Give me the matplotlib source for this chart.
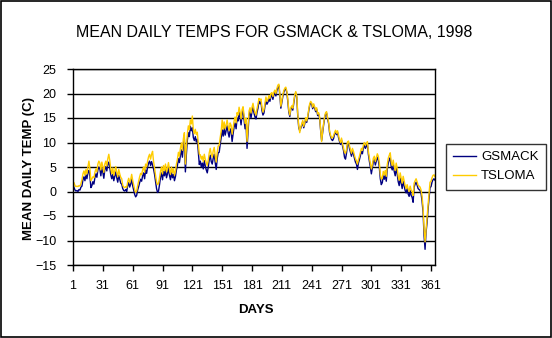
import matplotlib
matplotlib.use("Agg")
import matplotlib.pyplot as plt
import numpy as np

# daily mean temps (C)
gsmack = [
    1.4, 0.8, 0.3, 0.1, 0.2, 0.0, 0.4, 0.3, 0.9, 1.1,
    2.4, 3.0, 2.2, 3.4, 2.6, 3.9, 4.3, 3.1, 0.8, 1.2,
    2.0, 1.5, 2.8, 3.6, 2.9, 4.4, 5.0, 4.6, 3.2, 4.8,
    3.9, 2.7, 4.5, 5.1, 4.2, 5.6, 6.0, 4.9, 3.4, 2.6,
    3.5, 2.2, 3.1, 4.0, 2.8, 1.9, 3.3, 2.5, 1.7, 1.5,
    0.6, 0.2, 0.1, 0.4, 0.0, 1.2, 1.8, 0.9, 1.5, 2.6,
    1.2, 0.3, -0.6, -1.1, -0.8, 0.3, 1.0, 1.8, 2.5, 2.1,
    3.2, 3.8, 2.6, 4.4, 3.7, 5.0, 5.8, 6.2, 5.3, 6.1,
    5.4, 4.6, 3.5, 2.0, 0.6, -0.2, 0.1, 1.4, 2.9, 3.8,
    2.4, 4.1, 3.2, 4.5, 2.8, 3.6, 4.8, 3.3, 2.4, 3.9,
    2.8, 3.5, 2.2, 3.0, 4.4, 5.3, 6.7, 5.9, 7.4, 8.5,
    7.0, 9.4, 10.6, 4.0, 7.6, 10.5, 12.0, 11.2, 13.3, 12.4,
    13.0, 11.0, 10.4, 11.2, 10.1, 10.7, 8.2, 5.5, 6.2, 5.0,
    5.8, 4.6, 6.3, 5.2, 4.4, 3.8, 5.0, 6.5, 7.4, 6.1,
    5.6, 6.8, 7.6, 5.9, 4.5, 6.7, 7.9, 8.0, 9.6, 11.0,
    12.6, 11.3, 13.0, 11.5, 12.4, 13.4, 12.0, 11.1, 12.8, 12.2,
    10.2, 11.8, 13.2, 14.0, 12.8, 15.0, 14.4, 16.2, 15.1, 13.6,
    15.8, 16.6, 14.6, 12.8, 13.9, 8.8, 12.2, 15.5, 16.3, 15.0,
    16.4, 17.2, 16.0, 15.2, 14.8, 16.1, 17.0, 18.6, 17.9, 18.3,
    16.5, 15.6, 16.0, 17.4, 18.6, 17.8, 18.2, 19.0, 18.4, 19.4,
    19.6, 18.8, 19.8, 20.2, 19.5, 20.6, 21.2, 21.6, 19.6, 17.0,
    18.2, 19.4, 20.3, 20.8, 21.0, 20.2, 18.4, 16.2, 15.3, 16.8,
    17.2, 16.6, 18.0, 19.5, 20.1, 19.2, 15.4, 13.0, 12.4, 12.9,
    13.5, 14.2, 13.0, 13.8, 14.8, 14.1, 15.0, 16.4, 17.6, 18.1,
    17.8, 16.9, 17.6, 17.0, 16.3, 16.8, 15.5, 15.8, 14.9, 12.5,
    10.4, 12.0, 13.6, 15.0, 15.8, 16.0, 14.8, 13.9, 12.0, 11.2,
    10.6, 10.4, 10.8, 11.7, 12.2, 11.6, 12.1, 11.0, 10.2, 9.6,
    10.5, 9.3, 8.4, 7.0, 6.6, 7.8, 9.5, 9.9, 8.8, 8.0,
    7.2, 8.3, 7.6, 6.8, 6.0, 5.6, 4.5, 5.8, 6.5, 7.4,
    8.2, 7.7, 8.9, 9.4, 8.8, 9.2, 9.8, 7.6, 6.2, 5.0,
    3.6, 4.8, 6.1, 6.5, 5.4, 6.2, 7.0, 6.4, 5.0, 2.6,
    1.4, 1.8, 3.2, 2.5, 3.4, 2.1, 4.6, 5.8, 6.4, 6.9,
    5.0, 4.4, 5.5, 4.1, 3.2, 4.8, 3.6, 2.0, 1.2, 2.8,
    1.7, 0.6, 2.1, 1.1, 0.2, -0.3, 0.6, -0.5, -1.0, 0.2,
    -0.8, -1.2, -2.2, 0.9, 1.5, 1.9, 1.3, 0.6, 0.4, 0.2,
    -0.4, -2.0, -4.2, -9.0, -11.8, -8.3, -6.4, -3.7, -1.4, 0.8,
    1.0, 1.9, 2.4, 2.6, 2.3,
]

tsloma = [
    2.0, 1.8, 1.2, 1.0, 1.1, 1.0, 1.2, 1.1, 1.6, 2.4,
    3.6, 4.2, 3.3, 4.5, 3.6, 5.0, 6.2, 4.6, 2.2, 2.6,
    3.0, 2.8, 3.9, 4.6, 4.0, 5.6, 6.2, 5.8, 4.4, 6.0,
    5.1, 3.9, 5.6, 6.2, 5.2, 6.7, 7.6, 6.3, 4.6, 3.6,
    4.8, 3.3, 4.2, 5.1, 3.9, 3.0, 4.5, 3.6, 2.9, 2.6,
    1.3, 0.9, 0.8, 1.0, 0.8, 2.0, 2.7, 1.8, 2.4, 3.5,
    2.3, 1.4, 0.4, -0.2, 0.1, 1.2, 2.1, 3.0, 3.7, 3.4,
    4.4, 5.0, 3.9, 5.6, 5.0, 6.2, 7.1, 7.6, 6.6, 7.6,
    8.2, 6.1, 4.8, 3.3, 2.0, 1.4, 1.6, 2.8, 4.1, 5.0,
    3.6, 5.3, 4.3, 5.6, 4.0, 4.8, 5.9, 4.5, 3.5, 5.0,
    3.8, 4.7, 3.3, 4.1, 5.6, 6.6, 8.0, 7.2, 8.8, 9.9,
    8.4, 10.8, 12.0, 5.6, 9.2, 11.8, 13.4, 12.6, 14.6, 13.8,
    15.4, 12.6, 11.8, 12.7, 11.6, 12.1, 9.7, 7.6, 7.5, 6.6,
    7.2, 6.1, 7.6, 6.6, 5.9, 5.3, 6.4, 7.9, 8.8, 7.6,
    7.0, 8.3, 9.0, 7.3, 6.0, 8.0, 9.3, 9.4, 11.0, 12.3,
    14.6, 12.7, 14.2, 12.8, 13.6, 14.6, 13.3, 12.4, 14.0, 13.5,
    11.7, 13.0, 14.4, 15.2, 14.0, 16.1, 15.6, 17.2, 16.2, 14.8,
    16.7, 17.3, 15.6, 13.9, 14.9, 10.2, 13.4, 16.4, 17.1, 16.0,
    17.2, 18.0, 16.8, 16.1, 15.6, 16.9, 17.8, 19.0, 18.6, 18.9,
    17.2, 16.2, 16.7, 18.0, 19.3, 18.4, 18.8, 19.6, 19.0, 20.0,
    20.2, 19.4, 20.3, 20.7, 20.0, 21.0, 21.7, 21.9, 20.0, 17.4,
    18.6, 19.8, 20.6, 21.1, 21.3, 20.5, 18.8, 16.6, 15.6, 17.1,
    17.5, 17.0, 18.4, 19.8, 20.4, 19.5, 15.8, 13.4, 12.0, 13.1,
    13.8, 14.5, 13.3, 14.1, 15.1, 14.4, 15.3, 16.7, 17.9, 18.4,
    18.1, 17.2, 17.9, 17.3, 16.6, 17.1, 15.8, 16.1, 15.2, 12.8,
    10.2, 12.3, 13.9, 15.3, 16.1, 16.3, 15.1, 14.2, 12.3, 11.5,
    10.9, 11.0, 11.4, 12.0, 12.5, 11.9, 12.4, 11.4, 10.5, 10.0,
    10.9, 9.8, 8.9, 8.0, 7.8, 8.6, 10.1, 10.3, 9.3, 8.6,
    7.8, 8.8, 8.2, 7.4, 6.7, 6.3, 5.6, 6.5, 7.2, 8.0,
    8.8, 8.4, 9.5, 10.0, 9.4, 9.8, 10.2, 8.2, 6.9, 5.8,
    4.6, 5.5, 6.8, 7.2, 6.1, 6.9, 7.7, 7.2, 5.9, 3.6,
    2.5, 2.7, 4.1, 3.4, 4.3, 3.1, 5.5, 6.8, 7.4, 7.9,
    6.0, 5.3, 6.4, 5.1, 4.3, 5.8, 4.7, 3.1, 2.3, 3.8,
    2.8, 1.7, 3.1, 2.2, 1.2, 0.6, 1.4, 0.5, 0.0, 1.1,
    0.3, 0.0, -0.8, 1.7, 2.2, 2.6, 2.0, 1.3, 1.1, 0.9,
    0.3, -1.0, -3.2, -7.6, -10.3, -7.8, -5.4, -2.6, -0.4, 1.9,
    2.1, 2.8, 3.3, 3.4, 3.0,
]

days = np.arange(1, len(gsmack) + 1)
day_ticks = list(range(1, 362, 30))
temp_ticks = list(range(-15, 26, 5))

plt.rcParams['font.family'] = ['Liberation Sans', 'DejaVu Sans']

fig = plt.figure(figsize=(5.52, 3.38), dpi=100)
ax = fig.add_axes([73/552, 73/338, 362/552, 196/338])

ax.plot(days, gsmack, color='#000080', lw=1.0, label='GSMACK')
ax.plot(days, tsloma, color='#FFCC00', lw=1.0, label='TSLOMA')

ax.set_xlim(1, 365)
ax.set_ylim(-15, 25)
ax.set_xticks(day_ticks)
ax.set_yticks(temp_ticks)
ax.tick_params(labelsize=9, direction='out', length=4, width=1, colors='black', pad=8)
ax.tick_params(axis='x', pad=7)
ax.yaxis.grid(True, color='black', lw=1)
ax.set_axisbelow(True)
for s in ax.spines.values():
    s.set_color('black')
    s.set_linewidth(1)

fig.text(0.497, 0.905, 'MEAN DAILY TEMPS FOR GSMACK & TSLOMA, 1998', ha='center', va='center', fontsize=11.5)
fig.text(0.463, 0.083, 'DAYS', ha='center', va='center', fontsize=9.5, fontweight='bold')
fig.text(0.052, 0.5, 'MEAN DAILY TEMP (C)', ha='center', va='center', rotation=90, fontsize=9.5, fontweight='bold')

leg = fig.legend(loc='upper left', bbox_to_anchor=(446/552, 1 - 144/338), fontsize=9.5,
                 frameon=True, fancybox=False, edgecolor='black', handlelength=1.7,
                 borderpad=0.55, labelspacing=0.5, handletextpad=0.4, borderaxespad=0)
leg.get_frame().set_linewidth(1)

# outer border around the whole chart
fig.patches.append(plt.Rectangle((0.001, 0.002), 0.997, 0.995, transform=fig.transFigure,
                                 fill=False, edgecolor='black', lw=1.2))

fig.savefig('out.png', dpi=100)
